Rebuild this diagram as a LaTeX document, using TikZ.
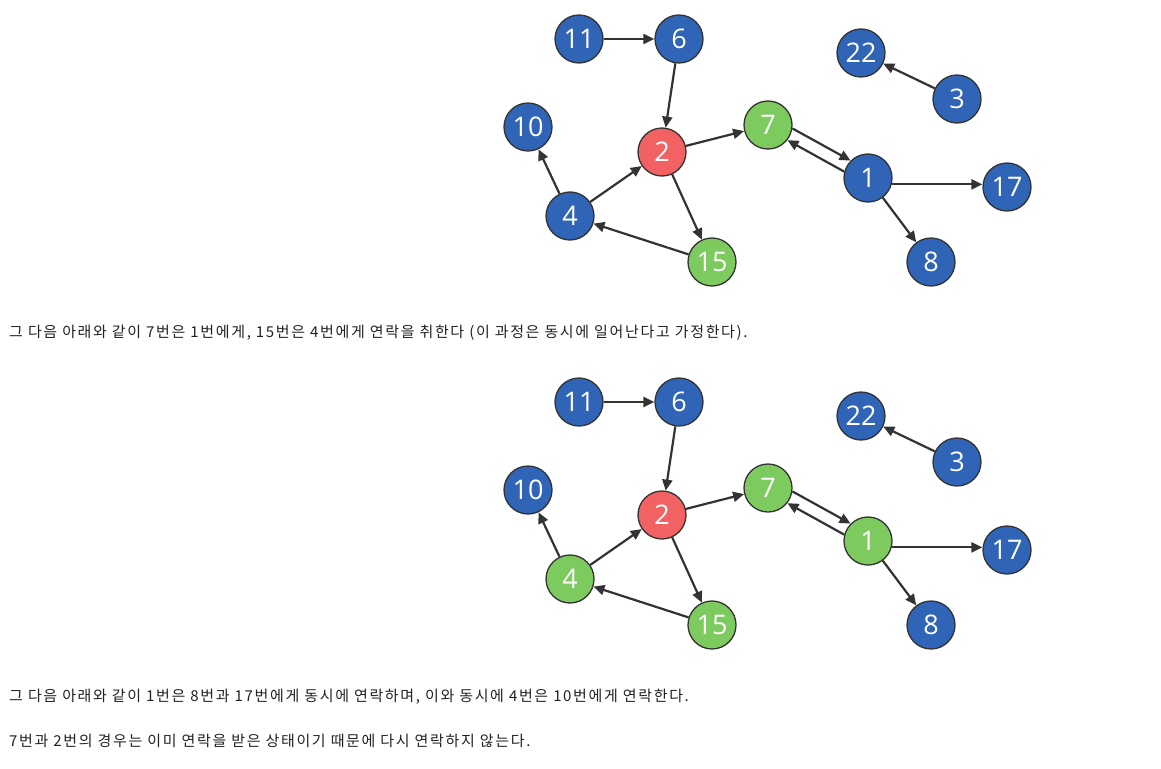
\documentclass[tikz,border=0pt]{standalone}
\usepackage{fontspec}
\setmainfont{Open Sans}
\newfontfamily\krfont[LetterSpace=11]{Noto Sans CJK KR}
\usetikzlibrary{arrows.meta}
\definecolor{nblue}{HTML}{3064B6}
\definecolor{nred}{HTML}{F26262}
\definecolor{ngreen}{HTML}{7DCB5F}
\definecolor{edgec}{HTML}{333333}
\definecolor{txtc}{HTML}{222222}
\tikzset{
  vtx/.style={circle, draw=edgec, line width=1.3pt, minimum size=48pt, inner sep=0pt,
    text=white, font=\fontsize{27}{27}\selectfont},
  blu/.style={vtx, fill=nblue},
  rd/.style={vtx, fill=nred},
  grn/.style={vtx, fill=ngreen},
  arr/.style={draw=edgec, line width=2.2pt, -{Triangle[length=11pt,width=10pt]}},
  txt/.style={anchor=base west, font=\krfont\fontsize{15}{15}\selectfont, inner sep=0pt, text=txtc}
}
\newcommand{\drawgraph}[4]{%
  \begin{scope}[yshift=#2]
    \node[blu] (#1-11) at (579,39) {11};
    \node[blu] (#1-6)  at (679,39) {6};
    \node[blu] (#1-22) at (861,53) {22};
    \node[blu] (#1-3)  at (957,99) {3};
    \node[blu] (#1-10) at (528,127) {10};
    \node[rd]  (#1-2)  at (662,152) {2};
    \node[grn] (#1-7)  at (768,125) {7};
    \node[#4]  (#1-1)  at (868,178) {1};
    \node[blu] (#1-17) at (1007,187) {17};
    \node[#3]  (#1-4)  at (570,216) {4};
    \node[grn] (#1-15) at (712,262) {15};
    \node[blu] (#1-8)  at (931,262) {8};
    \draw[arr] (#1-11) -- (#1-6);
    \draw[arr] (#1-6) -- (#1-2);
    \draw[arr] (#1-2) -- (#1-7);
    \draw[arr] (#1-7.-8) -- (#1-1.135);
    \draw[arr] (#1-1.165) -- (#1-7.-38);
    \draw[arr] (#1-2) -- (#1-15);
    \draw[arr] (#1-15) -- (#1-4);
    \draw[arr] (#1-4) -- (#1-2);
    \draw[arr] (#1-4) -- (#1-10);
    \draw[arr] (#1-3) -- (#1-22);
    \draw[arr] (#1-1.-15) -- (#1-1.-15 -| #1-17.west);
    \draw[arr] (#1-1) -- (#1-8);
  \end{scope}}
\begin{document}
\begin{tikzpicture}[x=1pt,y=-1pt]
  \useasboundingbox[fill=white] (0,0) rectangle (1161,768);
  \drawgraph{a}{0pt}{blu}{blu}
  \drawgraph{b}{-363pt}{grn}{grn}
  \node[txt] (t1) at (9,337) {그 다음 아래와 같이 7번은 1번에게, 15번은 4번에게 연락을 취한다 (이 과정은 동시에 일어난다고 가정한다).};
  \node[txt] (t2) at (9,701) {그 다음 아래와 같이 1번은 8번과 17번에게 동시에 연락하며, 이와 동시에 4번은 10번에게 연락한다.};
  \node[txt] (t3) at (9,746) {7번과 2번의 경우는 이미 연락을 받은 상태이기 때문에 다시 연락하지 않는다.};
\end{tikzpicture}
\end{document}
